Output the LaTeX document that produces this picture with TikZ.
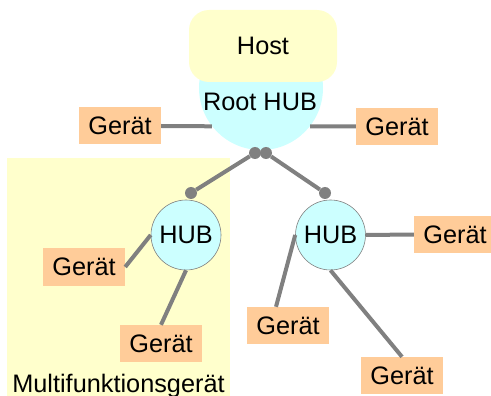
\documentclass[tikz,border=0pt]{standalone}
\usepackage{fontspec}
\setmainfont{Liberation Sans}
\definecolor{hostyellow}{HTML}{FFFFCC}
\definecolor{hubcyan}{HTML}{CCFFFF}
\definecolor{geraetorange}{HTML}{FFCC99}
\definecolor{linegray}{HTML}{808080}

\begin{document}
\begin{tikzpicture}[x=1pt, y=-1pt,
        font=\fontsize{25.3}{30}\selectfont,
        geraet/.style={fill=geraetorange, minimum width=82pt, minimum height=37pt, inner sep=0pt},
        hub/.style={circle, fill=hubcyan, draw=linegray, line width=0.6pt, minimum size=70pt, inner sep=0pt},
        dot/.style={circle, fill=linegray, minimum size=12pt, inner sep=0pt},
        wire/.style={draw=linegray, line width=4pt}]
            \useasboundingbox (0, 0) rectangle (491, 396);

            \node [fill=hostyellow, minimum width=223pt, minimum height=238pt, inner sep=0pt] (MF) at (118.5, 277) {};
            \node [anchor=base] (MFText) at (118.5, 392) {Multifunktionsgerät};

            \node [circle, fill=hubcyan, minimum size=124pt, inner sep=0pt] (Root) at (261, 88) {};
            \node [fill=hostyellow, rounded corners=20pt, minimum width=148pt, minimum height=72pt, inner sep=0pt] (Host) at (263, 46) {Host};
            \node [anchor=base] (RootText) at (260, 111) {Root HUB};

            \node [geraet] (G1) at (120, 126) {Gerät};
            \node [geraet] (G2) at (397, 126.5) {Gerät};

            \node [hub] (H1) at (186, 235) {HUB};
            \node [hub] (H2) at (330.5, 235) {HUB};

            \node [geraet] (G3) at (84, 267) {Gerät};
            \node [geraet] (G4) at (161, 343.5) {Gerät};
            \node [geraet] (G5) at (455, 234.5) {Gerät};
            \node [geraet] (G6) at (288, 325.5) {Gerät};
            \node [geraet] (G7) at (402, 375.5) {Gerät};

            \draw [wire] (G1.east) -- (Root.218);
            \draw [wire] (G2.west) -- (Root.-38);
            \draw [wire] (H1.west) -- (G3.east);
            \draw [wire] (H1.south) -- (G4.north);
            \draw [wire] (H2.east) -- (G5.west);
            \draw [wire] (H2.west) -- ([xshift=-12pt]G6.north);
            \draw [wire] (H2.south) -- (G7.north);

            \node [dot] (D1) at (255, 153) {};
            \node [dot] (D2) at (266, 153) {};
            \node [dot] (D3) at (191, 193) {};
            \node [dot] (D4) at (325, 193) {};

            \draw [wire] (D1) -- (D3);
            \draw [wire] (D2) -- (D4);
        \end{tikzpicture}
\end{document}
